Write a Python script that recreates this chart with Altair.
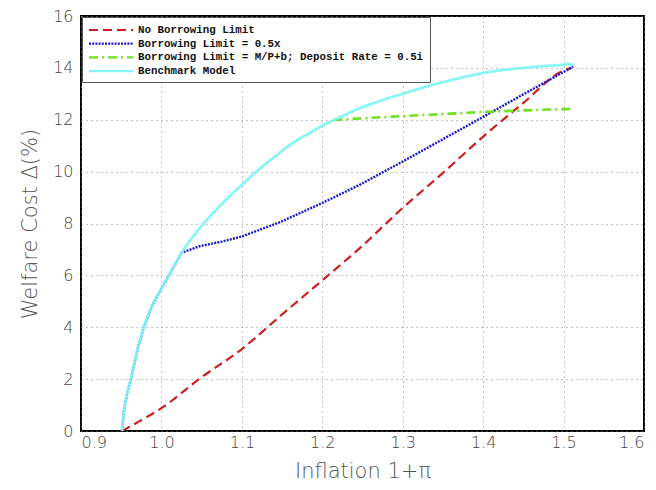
import altair as alt
import pandas as pd

# Benchmark Model (cyan)
bench_x = [0.951, 0.9535, 0.957, 0.962, 0.970, 0.978, 0.988, 1.0, 1.012, 1.025, 1.048, 1.075,
           1.1, 1.123, 1.145, 1.164, 1.183, 1.2, 1.225, 1.247, 1.275, 1.3, 1.335, 1.37,
           1.4, 1.45, 1.5, 1.512]
bench_y = [0.0, 0.8, 1.4, 2.0, 3.1, 4.0, 4.8, 5.5, 6.15, 6.87, 7.83, 8.75,
           9.49, 10.13, 10.68, 11.12, 11.47, 11.77, 12.14, 12.45, 12.76, 13.0, 13.33, 13.6,
           13.8, 14.0, 14.12, 14.15]

# Borrowing Limit = 0.5x (blue)
blim_x = [0.951, 0.9535, 0.957, 0.962, 0.970, 0.978, 0.988, 1.0, 1.012, 1.025, 1.048, 1.075,
          1.1, 1.148, 1.2, 1.247, 1.3, 1.35, 1.4, 1.45, 1.5, 1.512]
blim_y = [0.0, 0.8, 1.4, 2.0, 3.1, 4.0, 4.8, 5.5, 6.15, 6.87, 7.13, 7.3,
          7.5, 8.06, 8.79, 9.5, 10.39, 11.25, 12.11, 12.98, 13.84, 14.05]

# Borrowing Limit = M/P+b; Deposit Rate = 0.5i (green)
dep_x = [1.214, 1.247, 1.3, 1.35, 1.4, 1.45, 1.5, 1.512]
dep_y = [11.99, 12.05, 12.14, 12.22, 12.3, 12.36, 12.41, 12.42]

# No Borrowing Limit (red)
nob_x = [0.951, 0.975, 1.0, 1.048, 1.1, 1.148, 1.2, 1.247, 1.3, 1.35, 1.4, 1.45, 1.5, 1.51]
nob_y = [0.0, 0.42, 0.88, 2.03, 3.16, 4.44, 5.81, 7.06, 8.6, 9.95, 11.35, 12.65, 13.9, 14.0]

series = ["No Borrowing Limit",
          "Borrowing Limit = 0.5x",
          "Borrowing Limit = M/P+b; Deposit Rate = 0.5i",
          "Benchmark Model"]
colors = ["#cc1f1f", "#1a1ad6", "#6ee01e", "#80f4f4"]
dashes = [[9, 5], [2, 1.2], [9, 4, 2, 4], [1, 0]]
widths = [2.2, 2.4, 2.6, 2.8]

x_ticks = [0.9, 1.0, 1.1, 1.2, 1.3, 1.4, 1.5, 1.6]
y_ticks = [0, 2, 4, 6, 8, 10, 12, 14, 16]

frames = []
for name, xs, ys in [(series[0], nob_x, nob_y), (series[1], blim_x, blim_y),
                     (series[2], dep_x, dep_y), (series[3], bench_x, bench_y)]:
    d = pd.DataFrame({"x": xs, "y": ys})
    d["series"] = name
    d["order"] = range(len(xs))
    frames.append(d)
df = pd.concat(frames, ignore_index=True)

color_scale = alt.Scale(domain=series, range=colors)
dash_scale = alt.Scale(domain=series, range=dashes)

legend = alt.Legend(
    title=None, orient="top-left", offset=1, padding=6,
    fillColor="white", strokeColor="#555555",
    labelFont="Liberation Mono", labelFontSize=10.8, labelFontWeight="bold",
    labelColor="#111111", labelLimit=400, labelOffset=20,
    symbolType="M-4,0H4", symbolSize=121, symbolStrokeWidth=2.2,
    symbolOffset=16, rowPadding=1.7,
)

def layer(name, width, interp, opacity=1.0):
    return alt.Chart(df).transform_filter(
        alt.datum.series == name
    ).mark_line(strokeWidth=width, clip=True, opacity=opacity, interpolate=interp).encode(
        x=alt.X("x:Q", scale=alt.Scale(domain=[0.9, 1.6], nice=False, zero=False),
                axis=alt.Axis(values=x_ticks, format=".1f", title="Inflation  1+π")),
        y=alt.Y("y:Q", scale=alt.Scale(domain=[0, 16], nice=False),
                axis=alt.Axis(values=y_ticks, title="Welfare Cost  Δ(%)")),
        color=alt.Color("series:N", scale=color_scale, legend=legend),
        strokeDash=alt.StrokeDash("series:N", scale=dash_scale, legend=legend),
        order="order:Q",
    )

chart = alt.layer(
    layer(series[0], widths[0], "monotone"),
    layer(series[1], widths[1], "linear"),
    layer(series[2], widths[2], "monotone"),
    layer(series[3], widths[3], "monotone", 0.92),
).properties(
    width=563, height=415,
    autosize=alt.AutoSizeParams(type="none"),
    padding={"left": 73, "top": 8, "right": 4, "bottom": 58},
).configure_view(
    stroke="black", strokeWidth=2
).configure_axis(
    grid=True, gridColor="#888888", gridDash=[1, 4], gridWidth=1,
    domain=False, ticks=False,
    labelFont="DejaVu Sans", labelFontSize=16, labelFontWeight=200, labelColor="#444444",
    titleFont="DejaVu Sans", titleFontSize=21, titleFontWeight=200, titleColor="#555555",
).configure_axisY(
    labelPadding=8, titlePadding=12
).configure_axisX(
    labelPadding=3, titlePadding=10
)

chart.save("out.html", embed_options={"renderer": "svg", "actions": False})
